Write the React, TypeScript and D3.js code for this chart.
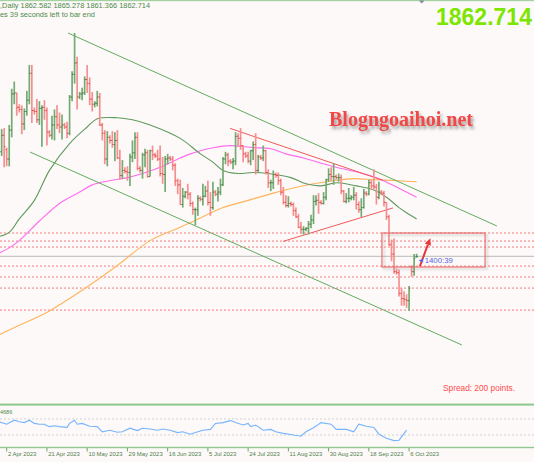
import React from "react";
import * as d3 from "d3";

// ---------- DATA ----------
const barDates = [
  "03-29","03-30","03-31","04-02","04-03","04-04","04-05","04-06","04-09","04-10",
  "04-11","04-12","04-13","04-14","04-16","04-17","04-18","04-19","04-20","04-21",
  "04-23","04-24","04-25","04-26","04-27","04-28","04-30","05-01","05-02","05-03",
  "05-04","05-05","05-07","05-08","05-09","05-10","05-11","05-12","05-14","05-15",
  "05-16","05-17","05-18","05-19","05-21","05-22","05-23","05-24","05-25","05-26",
  "05-28","05-29","05-30","05-31","06-01","06-02","06-04","06-05","06-06","06-07",
  "06-08","06-09","06-11","06-12","06-13","06-14","06-15","06-16","06-18","06-19",
  "06-20","06-21","06-22","06-23","06-25","06-26","06-27","06-28","06-29","06-30",
  "07-02","07-03","07-04","07-05","07-06","07-07","07-09","07-10","07-11","07-12",
  "07-13","07-14","07-16","07-17","07-18","07-19","07-20","07-21","07-23","07-24",
  "07-25","07-26","07-27","07-28","07-30","07-31","08-01","08-02","08-03","08-04",
  "08-06","08-07","08-08","08-09","08-10","08-11","08-13","08-14","08-15","08-16",
  "08-17","08-18","08-20","08-21","08-22","08-23","08-24","08-25","08-27","08-28",
  "08-29","08-30","08-31","09-01","09-03","09-04","09-05","09-06","09-07","09-08",
  "09-10","09-11","09-12","09-13","09-14","09-15","09-17","09-18","09-19","09-20",
  "09-21","09-22","09-24","09-25","09-26","09-27","09-28","09-29","10-01","10-02",
  "10-03","10-04","10-05","10-06","10-08","10-09","10-10",
];

const opens = [
  1973,1964,1980,1966,1957,1985,2020,2021,2007,2005,
  1991,2003,2014,2040,2004,2003,1995,2006,2007,2004,
  1983,1980,1990,1998,1990,1988,1990,1988,1982,2017,
  2039,2050,2017,2020,2021,2034,2030,2015,2010,2011,
  2017,1990,1982,1957,1978,1975,1971,1975,1958,1941,
  1946,1945,1944,1959,1963,1978,1948,1946,1961,1963,
  1940,1965,1961,1960,1957,1943,1942,1957,1958,1957,
  1951,1936,1932,1913,1921,1925,1923,1914,1908,1908,
  1919,1918,1921,1926,1915,1910,1925,1923,1925,1932,
  1957,1961,1955,1954,1955,1979,1977,1970,1962,1960,
  1955,1965,1971,1946,1959,1958,1965,1944,1934,1934,
  1942,1941,1936,1925,1915,1912,1914,1913,1907,1901,
  1891,1889,1889,1890,1894,1898,1916,1917,1915,1914,
  1920,1937,1942,1940,1940,1939,1939,1926,1916,1919,
  1919,1920,1922,1913,1908,1910,1924,1923,1934,1931,
  1930,1920,1925,1924,1915,1901,1874,1865,1848,1847,
  1827,1822,1821,1820,1853,1848,1862.582,
];
const highs = [
  1975,1986,1987,1968,1990,2025,2032,2021,2010,2009,
  2006,2023,2048,2048,2007,2015,2013,2009,2014,2007,
  1985,1999,2005,2009,2002,2000,1992,1993,2019,2042,
  2079,2056,2022,2026,2037,2048,2036,2022,2013,2023,
  2021,1992,1985,1984,1980,1984,1983,1985,1966,1956,
  1949,1950,1962,1975,1983,1983,1950,1963,1967,1966,
  1966,1970,1963,1966,1970,1959,1960,1962,1960,1960,
  1953,1938,1937,1929,1926,1933,1925,1916,1910,1922,
  1921,1933,1931,1936,1925,1935,1927,1930,1938,1959,
  1964,1963,1957,1958,1983,1982,1987,1970,1964,1964,
  1966,1974,1982,1961,1961,1970,1966,1947,1937,1946,
  1944,1944,1938,1930,1922,1921,1916,1915,1910,1904,
  1896,1892,1891,1897,1903,1922,1922,1924,1917,1925,
  1938,1948,1949,1953,1942,1943,1942,1927,1924,1929,
  1922,1930,1925,1916,1919,1928,1926,1937,1937,1947,
  1933,1935,1927,1926,1915,1903,1879,1880,1851,1850,
  1832,1829,1826,1834,1854,1865,1865.278,
];
const lows = [
  1949,1960,1949,1950,1950,1978,2010,1999,2002,1981,
  1985,1999,2010,1992,2000,1992,1990,1969,1995,1970,
  1978,1976,1975,1986,1982,1976,1986,1977,1980,2013,
  2030,2005,2015,2014,2019,2021,2009,2003,2007,2008,
  1989,1975,1952,1950,1972,1968,1955,1957,1937,1938,
  1943,1936,1931,1954,1957,1946,1944,1938,1949,1939,
  1940,1956,1958,1955,1940,1933,1925,1952,1955,1946,
  1931,1923,1913,1910,1919,1918,1911,1903,1893,1902,
  1916,1912,1920,1912,1902,1908,1921,1916,1922,1931,
  1952,1950,1952,1947,1951,1969,1966,1954,1958,1953,
  1951,1956,1942,1944,1956,1955,1942,1929,1926,1928,
  1939,1932,1922,1913,1910,1910,1911,1902,1900,1890,
  1885,1884,1887,1884,1890,1894,1912,1904,1913,1913,
  1917,1935,1936,1932,1937,1935,1923,1915,1914,1915,
  1917,1917,1908,1905,1901,1909,1921,1922,1927,1928,
  1913,1918,1922,1911,1898,1873,1858,1846,1845,1824,
  1815,1815,1813,1810,1843,1844,1861.366,
];
const closes = [
  1964,1980,1969,1957,1985,2020,2021,2007,2005,1991,
  2003,2014,2040,2004,2003,1995,2006,2007,2004,1983,
  1980,1990,1998,1990,1988,1990,1988,1982,2017,2039,
  2050,2017,2020,2021,2034,2030,2015,2010,2011,2017,
  1990,1982,1957,1978,1975,1971,1975,1958,1941,1946,
  1945,1944,1959,1963,1978,1948,1946,1961,1963,1940,
  1965,1961,1960,1957,1943,1942,1957,1958,1957,1951,
  1936,1932,1913,1921,1925,1923,1914,1908,1908,1919,
  1918,1921,1926,1915,1910,1925,1923,1925,1932,1957,
  1961,1955,1954,1955,1979,1977,1970,1962,1960,1955,
  1965,1971,1946,1959,1958,1965,1944,1934,1934,1942,
  1941,1936,1925,1915,1912,1914,1913,1907,1901,1891,
  1889,1889,1890,1894,1898,1916,1917,1915,1914,1920,
  1937,1942,1940,1940,1939,1939,1926,1916,1919,1919,
  1920,1922,1913,1908,1910,1924,1923,1934,1931,1930,
  1920,1925,1924,1915,1901,1874,1865,1848,1847,1827,
  1822,1821,1820,1832,1848,1861,1862.714,
];

// moving averages: [bar index from 2 Apr, price]
const maFast = [
  [-3,1882],[1,1886],[5,1899],[11,1917],[17,1946],[25,1972],[32,1988],[36,1996],
  [44,1997],[50,1995],[57,1990],[69,1977],[77,1962],[82,1954],[86,1946],[92,1943],
  [98,1944],[104,1943],[113,1939],[119,1933],[125,1931],[131,1934],[139,1931],
  [146,1927],[151,1920],[156,1910],[159,1905],[163,1899],
];
const maMid = [
  [-3,1866],[1,1871],[5,1878],[13,1897],[21,1914],[29,1925],[34,1932],[41,1936],
  [48,1939],[54,1943],[61,1949],[69,1958],[73,1962],[77,1965],[82,1968],[89,1970],
  [98,1968],[105,1967],[111,1962],[118,1958],[125,1953],[131,1949],[140,1944],
  [148,1938],[155,1930],[159,1925],[163,1920],
];
const maSlow = [
  [-3,1787],[5,1796],[17,1810],[30,1830],[44,1854],[57,1878],[69,1891],[77,1900],
  [86,1910],[96,1917],[106,1924],[114,1929],[122,1933],[130,1936],[138,1938],
  [146,1937],[156,1936],[163,1935],
];

// drawn objects
const channelUpper = [[24.4, 2079], [194.9, 1892.2]];
const channelLower = [[9.26, 1963.8], [181, 1777]];
const redUpper = [[88.8, 1986.7], [149.6, 1936.4]];
const redLower = [[109.9, 1877.3], [153.6, 1909.7]];
const levels = [1885.4, 1877.6, 1871.8, 1853.4, 1842.8, 1832.1, 1810.8];
const currentPrice = 1862.714;
const boxFrom = [149.2, 1885.4];
const boxTo = [190.2, 1852.5];
const arrowFrom = [164.3, 1853.4];
const arrowTo = [168.3, 1879.5];

// indicator panel: [bar index, value]
const indicator = [
  [-3,63],[0,57],[3,67],[5,63],[7,61],[9,67],[11,59],[13,57],[15,57],[16,53],
  [17,51],[19,53],[21,51],[24,49],[25,59],[27,67],[28,57],[30,59],[33,52],[36,51],
  [38,38],[41,42],[44,37],[46,38],[49,47],[52,41],[54,47],[57,45],[60,42],[62,45],
  [65,42],[68,36],[70,38],[73,32],[76,38],[78,42],[81,44],[83,59],[86,61],[89,66],
  [91,61],[94,55],[96,59],[97,51],[99,55],[102,42],[105,44],[107,38],[110,34],
  [114,30],[117,27],[119,38],[122,48],[125,61],[129,57],[131,44],[135,44],[138,38],
  [140,57],[143,52],[146,49],[148,32],[151,22],[154,16],[156,17],[159,42],
];
const indicatorLevels = [70, 30];

const tickDates = ["04-02","04-21","05-10","05-29","06-16","07-05","07-24","08-11","08-30","09-18","10-06"];
const tickLabels = ["2 Apr 2023","21 Apr 2023","10 May 2023","29 May 2023","16 Jun 2023","5 Jul 2023","24 Jul 2023","11 Aug 2023","30 Aug 2023","18 Sep 2023","6 Oct 2023"];

const headerLine1 = ",Daily  1862.582 1865.278 1861.366 1862.714";
const headerLine2 = "es 39 seconds left to bar end";
const timerLabel = "1400:39";
const watermark = "Blogngoaihoi.net";
const spreadText = "Spread: 200 points.";
const indicatorLabel = "4686";

export default function App() {
  const W = 534, H = 462;
  const off = barDates.indexOf("04-02");
  const x = d3.scaleLinear().domain([0, 160]).range([6.7, 409.1]);
  const y = d3.scaleLinear().domain([2079, 1810]).range([33, 310.9]);
  const yi = d3.scaleLinear().domain([30, 70]).range([435, 419]);
  const line = d3.line<number[]>().x(d => x(d[0])).y(d => y(d[1])).curve(d3.curveCatmullRom.alpha(0.5));
  const lineI = d3.line<number[]>().x(d => x(d[0])).y(d => yi(d[1])).curve(d3.curveLinear);
  const seg = d3.line<number[]>().x(d => x(d[0])).y(d => y(d[1]));
  const sans = "'Liberation Sans', Arial, sans-serif";
  const lastI = barDates.length - 1 - off;

  const ax = x(arrowFrom[0]), ay = y(arrowFrom[1]);
  const bx = x(arrowTo[0]), by = y(arrowTo[1]);
  const ang = Math.atan2(by - ay, bx - ax);
  const hl = 6, hw = 3.2;
  const hx = bx - hl * Math.cos(ang), hy = by - hl * Math.sin(ang);
  const head = [
    [bx + 1 * Math.cos(ang), by + 1 * Math.sin(ang)],
    [hx + hw * Math.sin(ang), hy - hw * Math.cos(ang)],
    [hx - hw * Math.sin(ang), hy + hw * Math.cos(ang)],
  ].map(p => p.join(",")).join(" ");

  const lx = x(lastI);
  const cy = y(currentPrice);

  return (
    <svg width={W} height={H} style={{ position: "absolute", left: 0, top: 0, display: "block" }}>
      <defs>
        <clipPath id="main"><rect x={0} y={1} width={W} height={403} /></clipPath>
        <clipPath id="ind"><rect x={0} y={406} width={W} height={41} /></clipPath>
        <filter id="tshadow" x="-10%" y="-30%" width="130%" height="180%">
          <feGaussianBlur in="SourceAlpha" stdDeviation="1.4" />
          <feOffset dx="2" dy="3" result="b" />
          <feFlood floodColor="#555" floodOpacity="0.55" />
          <feComposite in2="b" operator="in" />
          <feMerge><feMergeNode /><feMergeNode in="SourceGraphic" /></feMerge>
        </filter>
        <filter id="bshadow" x="-10%" y="-20%" width="130%" height="160%">
          <feGaussianBlur in="SourceAlpha" stdDeviation="1.2" />
          <feOffset dx="1.5" dy="1.5" result="b" />
          <feFlood floodColor="#888" floodOpacity="0.45" />
          <feComposite in2="b" operator="in" />
          <feMerge><feMergeNode /><feMergeNode in="SourceGraphic" /></feMerge>
        </filter>
      </defs>
      <rect x={0} y={0} width={W} height={H} fill="#fdf9f8" />
      <rect x={0} y={0} width={W} height={1.2} fill="#a3d3a3" />
      <polygon points="419,0.5 424.5,0.5 421.7,3.6" fill="#7f8d99" />

      <g clipPath="url(#main)">
        {levels.map((p, k) => (
          <line key={k} x1={0} x2={W} y1={y(p)} y2={y(p)} stroke="#f06868" strokeWidth={1} strokeDasharray="2,2" opacity={0.85} />
        ))}
        <line x1={0} x2={W} y1={cy} y2={cy} stroke="#c6c6c6" strokeWidth={1.3} />

        <path d={line(maSlow) || ""} fill="none" stroke="#ffb45a" strokeWidth={1.1} />
        <path d={line(maMid) || ""} fill="none" stroke="#ff6bf0" strokeWidth={1.1} />
        <path d={line(maFast) || ""} fill="none" stroke="#5e9a5e" strokeWidth={1.1} />

        <path d={seg(channelUpper) || ""} stroke="#62ab5e" strokeWidth={1} fill="none" />
        <path d={seg(channelLower) || ""} stroke="#62ab5e" strokeWidth={1} fill="none" />
        <path d={seg(redUpper) || ""} stroke="#f05a5a" strokeWidth={1} fill="none" />
        <path d={seg(redLower) || ""} stroke="#f05a5a" strokeWidth={1} fill="none" />

        {barDates.map((d, k) => {
          const i = k - off;
          const cx = x(i);
          const up = closes[k] >= opens[k];
          const c = up ? "#74aa74" : "#f59090";
          const t = up ? "#3f7f3f" : "#e24848";
          return (
            <g key={d}>
              <line x1={cx} x2={cx} y1={y(highs[k])} y2={y(lows[k])} stroke={c} strokeWidth={1.7} />
              <line x1={cx - 1.2} x2={cx} y1={y(opens[k])} y2={y(opens[k])} stroke={t} strokeWidth={1} />
              <line x1={cx} x2={cx + 1.2} y1={y(closes[k])} y2={y(closes[k])} stroke={t} strokeWidth={1} />
            </g>
          );
        })}

        <rect x={x(boxFrom[0])} y={y(boxFrom[1])} width={x(boxTo[0]) - x(boxFrom[0])} height={y(boxTo[1]) - y(boxFrom[1])}
          fill="none" stroke="#e96666" strokeWidth={1.1} filter="url(#bshadow)" />
        <line x1={ax} y1={ay} x2={hx} y2={hy} stroke="#e93535" strokeWidth={2} />
        <polygon points={head} fill="#e93535" />

        <polygon points={`${lx + 2},${cy + 4} ${lx + 6.5},${cy + 2} ${lx + 6.5},${cy + 6}`} fill="#5a66e0" />
        <text x={lx + 8} y={cy + 6.8} fontFamily={sans} fontSize={7.8} fill="#5563e0">{timerLabel}</text>

        <text x={329} y={126} fontFamily="'Liberation Serif', 'Times New Roman', serif" fontWeight="bold" fontSize={20}
          fill="#f04646" textLength={144} lengthAdjust="spacingAndGlyphs" filter="url(#tshadow)">{watermark}</text>

        <text x={443} y={390.5} fontFamily={sans} fontSize={8.3} fill="#ff4a4a">{spreadText}</text>
      </g>

      <text x={0} y={7.8} fontFamily={sans} fontSize={7.4} fill="#4a8a4a">{headerLine1}</text>
      <text x={0} y={16.5} fontFamily={sans} fontSize={7.4} fill="#4a8a4a">{headerLine2}</text>
      <text x={436} y={25} fontFamily={sans} fontWeight="bold" fontSize={23} fill="#7ce600">{closes[closes.length - 1].toFixed(3)}</text>

      <rect x={0} y={403.6} width={W} height={2} fill="#8fc88f" />
      <g clipPath="url(#ind)">
        {indicatorLevels.map(v => (
          <line key={v} x1={0} x2={W} y1={yi(v)} y2={yi(v)} stroke="#c8c8c8" strokeWidth={0.8} strokeDasharray="2,2" />
        ))}
        <path d={lineI(indicator) || ""} fill="none" stroke="#76b4ff" strokeWidth={1.1} />
      </g>
      <text x={0} y={414} fontFamily={sans} fontSize={5.5} fill="#4a8a4a">{indicatorLabel}</text>
      <rect x={0} y={446.8} width={W} height={1.4} fill="#8fc88f" />

      {tickDates.map((d, k) => {
        const tx = x(barDates.indexOf(d) - off);
        return (
          <g key={d}>
            <line x1={tx} x2={tx} y1={448} y2={451.5} stroke="#6aa86a" strokeWidth={1} />
            <text x={tx + 1.2} y={455.5} fontFamily={sans} fontSize={5.9} fill="#4d7f4d">{tickLabels[k]}</text>
          </g>
        );
      })}
    </svg>
  );
}
